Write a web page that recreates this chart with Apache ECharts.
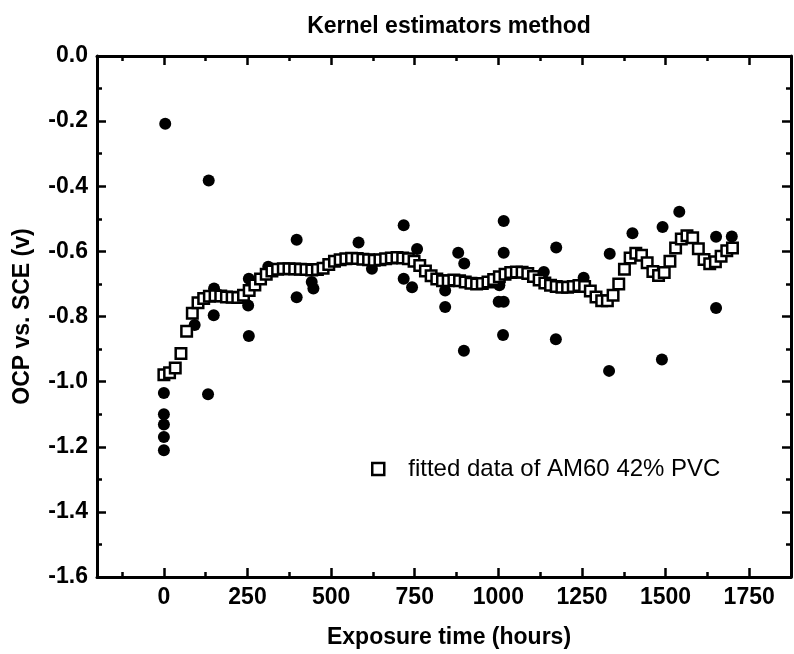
<!DOCTYPE html>
<html>
<head>
<meta charset="utf-8">
<script src="https://cdn.jsdelivr.net/npm/echarts@6/dist/echarts.min.js"></script>
<style>
html,body{margin:0;padding:0;background:#fff;}
#chart{width:794px;height:654px;}
</style>
</head>
<body>
<div id="chart"></div>
<script>
// Raw measured OCP values (filled circles)
const rawTime = [4, 0, 0, 0, 0, 0,
  134, 132, 149, 150, 92,
  254, 254, 252, 312,
  397, 397, 442, 447,
  582, 622, 717, 717, 742, 757,
  841, 841, 880, 898, 897,
  1001, 1016, 1016, 1016, 1014, 1003,
  1136, 1173, 1172,
  1255, 1333, 1331,
  1401, 1491, 1489, 1541,
  1651, 1651, 1698];
const rawOCP = [-0.208, -1.035, -1.10, -1.132, -1.170, -1.211,
  -0.382, -1.039, -0.796, -0.714, -0.826,
  -0.860, -0.684, -0.766, -0.647,
  -0.564, -0.741, -0.694, -0.714,
  -0.573, -0.653, -0.520, -0.684, -0.710, -0.593,
  -0.720, -0.771, -0.604, -0.637, -0.905,
  -0.755, -0.755, -0.507, -0.604, -0.857, -0.704,
  -0.663, -0.588, -0.870,
  -0.681, -0.607, -0.967,
  -0.544, -0.525, -0.932, -0.478,
  -0.555, -0.774, -0.554];

// Kernel-estimator fitted values (open squares)
const fitTime = [0, 17, 34, 51, 68, 85, 102, 119, 136, 153,
  170, 187, 204, 221, 238, 255, 272, 289, 306, 323,
  340, 357, 374, 391, 408, 425, 442, 459, 476, 493,
  510, 527, 544, 561, 578, 595, 612, 629, 646, 663,
  680, 697, 714, 731, 748, 765, 782, 799, 816, 833,
  850, 867, 884, 901, 918, 935, 952, 969, 986, 1003,
  1020, 1037, 1054, 1071, 1088, 1105, 1122, 1139, 1156, 1173,
  1190, 1207, 1224, 1241, 1258, 1275, 1292, 1309, 1326, 1343,
  1360, 1377, 1394, 1411, 1428, 1445, 1462, 1479, 1496, 1513,
  1530, 1547, 1564, 1581, 1598, 1615, 1632, 1649, 1666, 1683,
  1700];
const fitOCP = [-0.979, -0.973, -0.958, -0.914, -0.845, -0.790, -0.758, -0.745, -0.738, -0.736,
  -0.737, -0.740, -0.741, -0.742, -0.735, -0.720, -0.703, -0.685, -0.670, -0.660,
  -0.655, -0.653, -0.653, -0.654, -0.655, -0.656, -0.657, -0.656, -0.652, -0.640,
  -0.630, -0.626, -0.623, -0.621, -0.622, -0.624, -0.626, -0.627, -0.626, -0.623,
  -0.620, -0.619, -0.620, -0.623, -0.630, -0.643, -0.660, -0.675, -0.685, -0.690,
  -0.690, -0.688, -0.690, -0.694, -0.698, -0.700, -0.699, -0.694, -0.686, -0.678,
  -0.670, -0.665, -0.663, -0.664, -0.668, -0.677, -0.688, -0.697, -0.704, -0.708,
  -0.710, -0.710, -0.708, -0.705, -0.708, -0.722, -0.740, -0.752, -0.752, -0.735,
  -0.700, -0.655, -0.620, -0.606, -0.612, -0.635, -0.662, -0.674, -0.665, -0.630,
  -0.590, -0.562, -0.552, -0.558, -0.592, -0.625, -0.638, -0.632, -0.615, -0.598,
  -0.590];

const xMajorTicks = [0, 250, 500, 750, 1000, 1250, 1500, 1750];
const xMinorTicks = [-125, 125, 375, 625, 875, 1125, 1375, 1625];
const yTicks = [0.0, -0.2, -0.4, -0.6, -0.8, -1.0, -1.2, -1.4, -1.6];

const fitName = 'fitted data of AM60 42% PVC';
const FONT = 'Liberation Sans, Arial, sans-serif';

const chart = echarts.init(document.getElementById('chart'), null, {renderer: 'canvas'});

function xAxisDef(pos, major, extra) {
  return Object.assign({
    type: 'value', position: pos, min: -200, max: 1875,
    splitLine: {show: false},
    axisLine: {show: major, onZero: false, lineStyle: {color: '#000', width: 3}},
    axisTick: {show: true, inside: true, length: major ? 9 : 5,
      customValues: major ? xMajorTicks : xMinorTicks,
      lineStyle: {color: '#000', width: 2.5}},
    axisLabel: {show: false}
  }, extra || {});
}

const option = {
  backgroundColor: '#fff',
  animation: false,
  grid: {left: 97, right: 3, top: 56, bottom: 77, containLabel: false},
  legend: {
    data: [{name: fitName, icon: 'rect',
      itemStyle: {color: '#fff', borderColor: '#000', borderWidth: 2.5}}],
    left: 366, top: 452,
    itemWidth: 12, itemHeight: 12,
    textStyle: {fontFamily: FONT, fontSize: 24, color: '#000', padding: [0, 0, 0, 19]}
  },
  xAxis: [
    xAxisDef('bottom', true, {
      name: 'Exposure time (hours)', nameLocation: 'middle', nameGap: 49,
      nameTextStyle: {fontFamily: FONT, fontWeight: 'bold', fontSize: 23, color: '#000', padding: [0, 0, 0, 10]},
      axisLabel: {show: true, customValues: xMajorTicks, margin: 9,
        fontFamily: FONT, fontWeight: 'bold', fontSize: 23, color: '#000',
        formatter: v => String(v)}
    }),
    xAxisDef('bottom', false),
    xAxisDef('top', true, {
      name: 'Kernel estimators method', nameLocation: 'middle', nameGap: 18,
      nameTextStyle: {fontFamily: FONT, fontWeight: 'bold', fontSize: 23, color: '#000', padding: [0, 0, 0, 10]}
    }),
    xAxisDef('top', false)
  ],
  yAxis: [
    {
      type: 'value', position: 'left', min: -1.6, max: 0, interval: 0.2,
      name: 'OCP vs. SCE (v)', nameLocation: 'middle', nameGap: 63,
      nameTextStyle: {fontFamily: FONT, fontWeight: 'bold', fontSize: 23, color: '#000'},
      splitLine: {show: false},
      axisLine: {show: true, onZero: false, lineStyle: {color: '#000', width: 3}},
      axisTick: {show: true, inside: true, length: 9, lineStyle: {color: '#000', width: 2.5}},
      minorTick: {show: true, splitNumber: 2, length: 5, lineStyle: {color: '#000', width: 2.5}},
      axisLabel: {show: true, margin: 9, fontFamily: FONT, fontWeight: 'bold', fontSize: 23, color: '#000',
        customValues: yTicks,
        formatter: v => (Math.abs(v) < 1e-9 ? 0 : v).toFixed(1)}
    },
    {
      type: 'value', position: 'right', min: -1.6, max: 0, interval: 0.2,
      splitLine: {show: false},
      axisLine: {show: true, onZero: false, lineStyle: {color: '#000', width: 3}},
      axisTick: {show: true, inside: true, length: 9, lineStyle: {color: '#000', width: 2.5}},
      minorTick: {show: true, splitNumber: 2, length: 5, lineStyle: {color: '#000', width: 2.5}},
      axisLabel: {show: false}
    }
  ],
  series: [
    {
      name: 'raw data', type: 'scatter', xAxisIndex: 0, yAxisIndex: 0,
      symbol: 'circle', symbolSize: 12,
      itemStyle: {color: '#000', opacity: 1},
      data: rawTime.map((t, i) => [t, rawOCP[i]]),
      z: 2
    },
    {
      name: fitName, type: 'scatter', xAxisIndex: 0, yAxisIndex: 0,
      symbol: 'rect', symbolSize: 10.5,
      itemStyle: {color: '#fff', borderColor: '#000', borderWidth: 2.5, opacity: 1},
      data: fitTime.map((t, i) => [t, fitOCP[i]]),
      z: 3
    }
  ]
};
chart.setOption(option);
</script>
</body>
</html>
